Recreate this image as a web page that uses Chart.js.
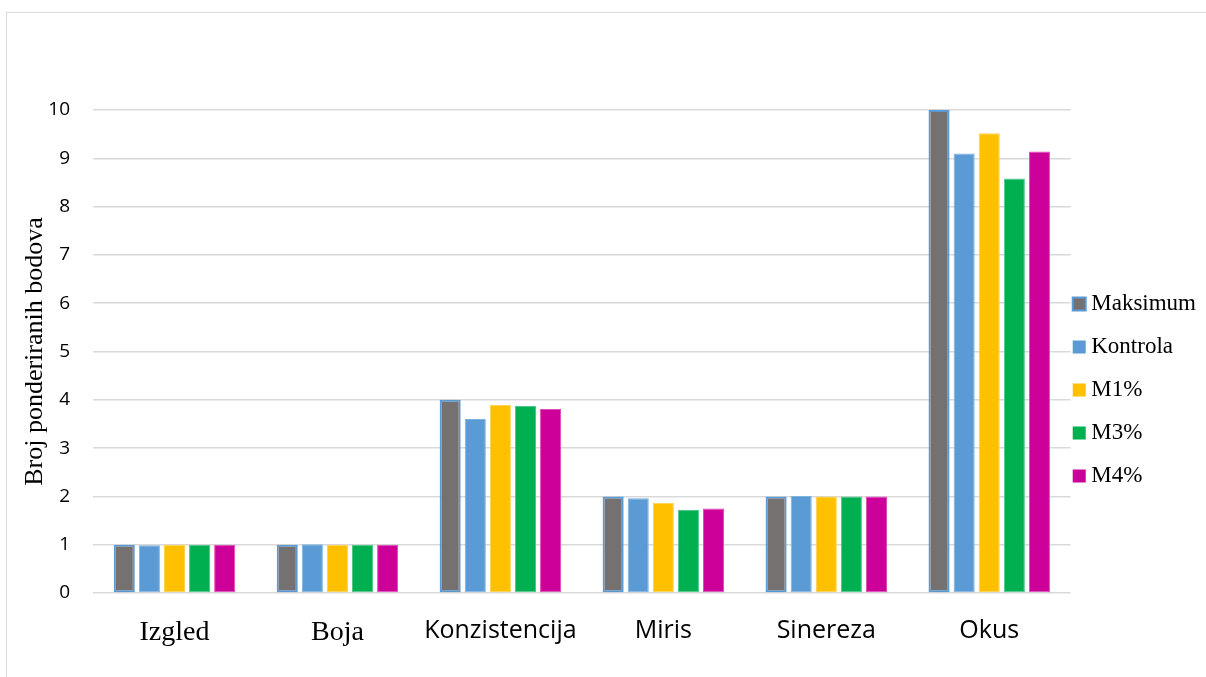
<!DOCTYPE html>
<html>
<head>
<meta charset="utf-8">
<script src="https://cdn.jsdelivr.net/npm/chart.js@4.4.1/dist/chart.umd.min.js"></script>
<style>
  html, body { margin: 0; padding: 0; background: #fff; overflow: hidden; }
  #wrap { position: relative; width: 1206px; height: 677px; }
  #frame { position: absolute; left: 6px; top: 12px; width: 1300px; height: 1000px;
           border: 1.5px solid #d9d9d9; box-sizing: border-box; pointer-events: none; }
  canvas { position: absolute; left: 0; top: 0; }
</style>
</head>
<body>
<div id="wrap">
  <canvas id="c" width="1206" height="677"></canvas>
  <div id="frame"></div>
</div>
<script>
// ---- data ----
const categories = ["Izgled", "Boja", "Konzistencija", "Miris", "Sinereza", "Okus"];
const seriesNames = ["Maksimum", "Kontrola", "M1%", "M3%", "M4%"];
const maksimum = [1, 1, 4, 2, 2, 10];
const kontrola = [0.99, 1.01, 3.60, 1.96, 2.01, 9.10];
const m1 = [1, 1, 3.89, 1.87, 2, 9.52];
const m3 = [1, 1, 3.87, 1.72, 2, 8.58];
const m4 = [1, 1, 3.81, 1.75, 2, 9.14];
const yTicks = [0, 1, 2, 3, 4, 5, 6, 7, 8, 9, 10];
const yTitle = "Broj ponderiranih bodova";

// ---- style ----
const fills = ["#767171", "#5b9bd5", "#ffc000", "#00b050", "#cc0099"];
const borders = ["#5b9bd5", "#7db1e0", "#ffd24d", "#4dc88a", "#dd4db8"];
const borderWidths = [2, 1, 1, 1, 1];
const seriesValues = [maksimum, kontrola, m1, m3, m4];
const serifCats = ["Izgled", "Boja"];

const legendShift = {
  id: 'legendShift',
  afterLayout(chart) {
    const lg = chart.legend;
    if (lg) { lg.left -= 12; lg.right -= 12; }
  }
};

new Chart(document.getElementById('c'), {
  type: 'bar',
  data: {
    labels: categories,
    datasets: seriesNames.map((n, i) => ({
      label: n,
      data: seriesValues[i],
      backgroundColor: fills[i],
      borderColor: borders[i],
      borderWidth: borderWidths[i],
      borderSkipped: false,
      categoryPercentage: 0.77,
      barPercentage: 0.84
    }))
  },
  options: {
    responsive: false,
    animation: false,
    devicePixelRatio: 1,
    layout: { padding: { top: 110, bottom: 7, left: 0, right: -12 } },
    plugins: {
      tooltip: { enabled: false },
      legend: {
        position: 'right',
        labels: {
          font: { family: 'Liberation Serif', size: 23 },
          color: '#000',
          usePointStyle: true,
          pointStyle: 'rect',
          boxWidth: 1,
          boxHeight: 13,
          padding: 20,
          generateLabels(chart) {
            return chart.data.datasets.map((ds, i) => ({
              text: ds.label,
              fillStyle: ds.backgroundColor,
              strokeStyle: i === 0 ? ds.borderColor : ds.backgroundColor,
              lineWidth: i === 0 ? 2 : 0,
              pointStyle: 'rect',
              rotation: 0,
              datasetIndex: i,
              hidden: false,
              fontColor: '#000'
            }));
          }
        }
      }
    },
    scales: {
      x: {
        grid: { display: false, drawTicks: false },
        border: { display: false },
        ticks: {
          color: '#000',
          padding: 23,
          font: (ctx) => {
            const lbl = categories[ctx.index];
            return serifCats.includes(lbl)
              ? { family: 'Liberation Serif', size: 28 }
              : { family: 'Open Sans', size: 25 };
          }
        },
        afterFit(scale) { scale.height = 77; }
      },
      y: {
        min: 0, max: 10,
        afterBuildTicks(scale) { scale.ticks = yTicks.map(v => ({ value: v })); },
        grid: { color: '#d9d9d9', lineWidth: 1.5, drawTicks: false },
        border: { display: false },
        ticks: {
          color: '#000',
          padding: 23,
          font: { family: 'Open Sans', size: 19 }
        },
        title: {
          display: true,
          text: yTitle,
          color: '#000',
          font: { family: 'Liberation Serif', size: 26 },
          padding: { top: 20, bottom: 0 }
        },
        afterFit(scale) { scale.width = 93; }
      }
    }
  },
  plugins: [legendShift]
});
</script>
</body>
</html>
